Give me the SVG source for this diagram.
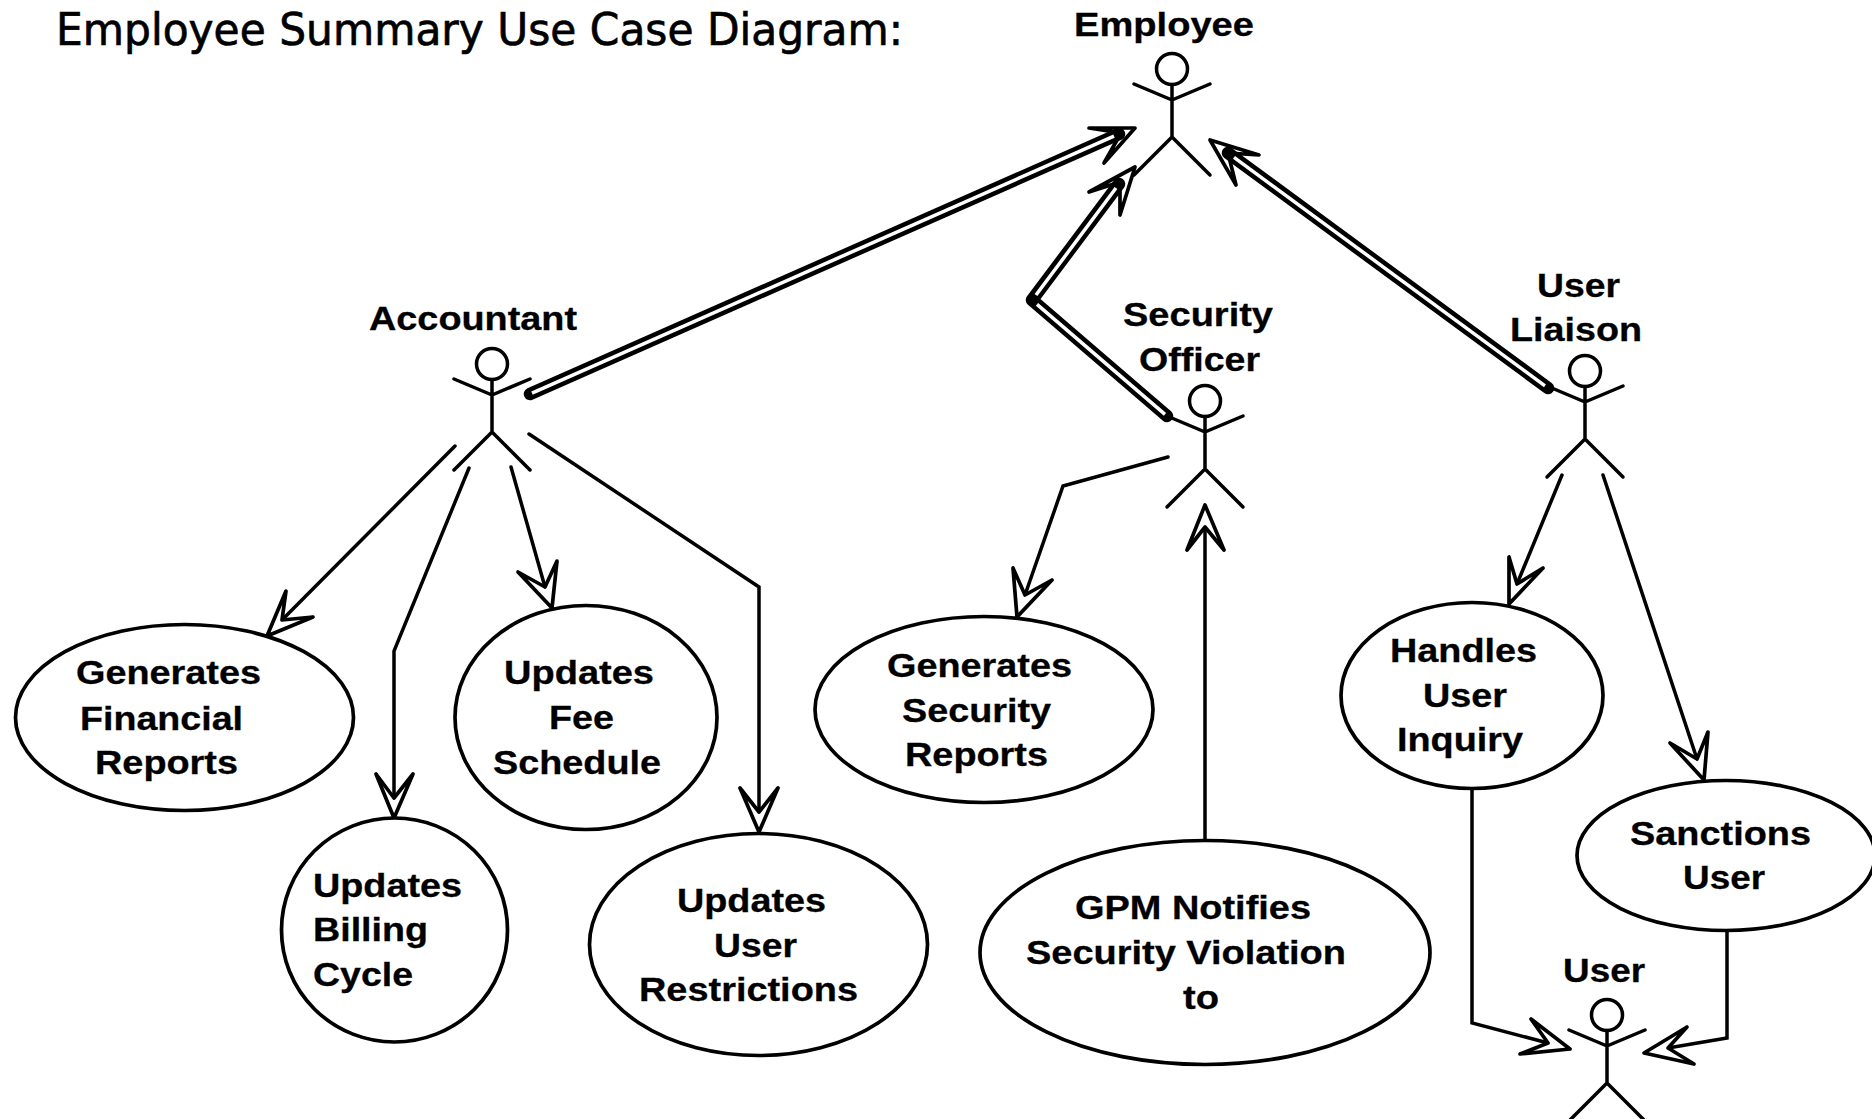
<svg xmlns="http://www.w3.org/2000/svg" xmlns:xlink="http://www.w3.org/1999/xlink" width="1872" height="1119" viewBox="0 0 1872 1119">
<style>
text{font-family:"Liberation Sans",Arial,sans-serif;font-weight:700;font-size:33px;fill:#000;stroke:#000;stroke-width:.3}
.title{font-family:"DejaVu Sans",sans-serif;font-weight:400;font-size:44px;stroke-width:.7}
.uc{fill:#fff;stroke:#000;stroke-width:3.7}
.fig{fill:none;stroke:#000;stroke-width:3.5;stroke-linecap:round;stroke-linejoin:round}
.ln{fill:none;stroke:#000;stroke-width:3.5;stroke-linecap:round;stroke-linejoin:miter}
.dart{fill:#fff;stroke:#000;stroke-width:3.7;stroke-linejoin:round}
.outer{fill:none;stroke:#000;stroke-width:12.500;stroke-linecap:round;stroke-linejoin:round}
.inner{fill:none;stroke:#fff;stroke-width:3.500;stroke-linecap:butt;stroke-linejoin:round}
</style>
<defs>
<g id="actor" class="fig">
<ellipse cx="0" cy="0" rx="15.500" ry="15.500"/>
<path d="M0 15.500V68M-38 15L0 31L38 15M-38 106L0 68L38 106"/>
</g>
</defs>
<rect width="1872" height="1119" fill="#fff"/>
<text class="title" x="56" y="45" textLength="847" lengthAdjust="spacingAndGlyphs">Employee Summary Use Case Diagram:</text>
<g id="connectors">
<path class="dart" d="M1089 128L1135 128L1104 163L1121 133Z"/>
<path class="dart" d="M1089 192L1135 167L1120 215L1120 182Z"/>
<path class="dart" d="M1259 155L1210 140L1236 185L1228 153Z"/>
<path class="outer" d="M530 394L1119 134"/>
<path class="inner" d="M532 393.100L1114 136.200"/>
<path class="outer" d="M1167 416L1032 300L1119 184"/>
<path class="inner" d="M1165 414.300L1037 304.300M1036 295L1116 188"/>
<path class="outer" d="M1548 388L1228 153"/>
<path class="inner" d="M1545 385.800L1234 157.400"/>
<path class="ln" d="M455 446L282 620"/>
<path class="dart" d="M286 591L267 636L313 617L282 620Z"/>
<path class="ln" d="M469 468L394 651V798"/>
<path class="dart" d="M376 774L394 818L413 774L394 798Z"/>
<path class="ln" d="M511 467L545 587"/>
<path class="dart" d="M518 572L552 608L557 561L545 587Z"/>
<path class="ln" d="M529 434L759 587V812"/>
<path class="dart" d="M740 788L759 832L778 788L759 812Z"/>
<path class="ln" d="M1168 457L1063 486L1025 595"/>
<path class="dart" d="M1013 568L1017 617L1052 580L1025 595Z"/>
<path class="ln" d="M1205 842V527"/>
<path class="dart" d="M1187 550L1205 505L1224 550L1205 527Z"/>
<path class="ln" d="M1562 475L1517 584"/>
<path class="dart" d="M1509 557L1509 604L1543 568L1517 584Z"/>
<path class="ln" d="M1603 475L1697 759"/>
<path class="dart" d="M1670 743L1704 780L1708 732L1697 759Z"/>
<path class="ln" d="M1472 788V1023L1548 1043"/>
<path class="dart" d="M1531 1019L1570 1049L1520 1054L1548 1043Z"/>
<path class="ln" d="M1727 930V1038L1668 1048"/>
<path class="dart" d="M1687 1027L1644 1053L1694 1064L1668 1048Z"/>
</g>
<g id="actor-employee"><use href="#actor" x="1172" y="69"/><text x="1074" y="36" textLength="180" lengthAdjust="spacingAndGlyphs">Employee</text></g>
<g id="actor-accountant"><use href="#actor" x="492" y="364"/><text x="369" y="330" textLength="208" lengthAdjust="spacingAndGlyphs">Accountant</text></g>
<g id="actor-security-officer"><use href="#actor" x="1205" y="401"/><text x="1123" y="326" textLength="150" lengthAdjust="spacingAndGlyphs">Security</text><text x="1139" y="371" textLength="121" lengthAdjust="spacingAndGlyphs">Officer</text></g>
<g id="actor-user-liaison"><use href="#actor" x="1585" y="371"/><text x="1537" y="297" textLength="83" lengthAdjust="spacingAndGlyphs">User</text><text x="1510" y="341" textLength="132" lengthAdjust="spacingAndGlyphs">Liaison</text></g>
<g id="actor-user"><use href="#actor" x="1607" y="1015"/><text x="1563" y="982" textLength="82" lengthAdjust="spacingAndGlyphs">User</text></g>
<g id="uc-financial"><ellipse class="uc" cx="184.500" cy="717.500" rx="169" ry="93"/><text x="76" y="684" textLength="185" lengthAdjust="spacingAndGlyphs">Generates</text><text x="80" y="730" textLength="163" lengthAdjust="spacingAndGlyphs">Financial</text><text x="95" y="774" textLength="143" lengthAdjust="spacingAndGlyphs">Reports</text></g>
<g id="uc-billing"><ellipse class="uc" cx="394.500" cy="930" rx="113" ry="112"/><text x="313" y="897" textLength="149" lengthAdjust="spacingAndGlyphs">Updates</text><text x="313" y="941" textLength="115" lengthAdjust="spacingAndGlyphs">Billing</text><text x="313" y="986" textLength="100" lengthAdjust="spacingAndGlyphs">Cycle</text></g>
<g id="uc-fee"><ellipse class="uc" cx="586" cy="717.500" rx="131" ry="112"/><text x="504" y="684" textLength="150" lengthAdjust="spacingAndGlyphs">Updates</text><text x="549" y="729" textLength="65" lengthAdjust="spacingAndGlyphs">Fee</text><text x="493" y="774" textLength="168" lengthAdjust="spacingAndGlyphs">Schedule</text></g>
<g id="uc-restrictions"><ellipse class="uc" cx="758.500" cy="944.500" rx="169" ry="111"/><text x="677" y="912" textLength="149" lengthAdjust="spacingAndGlyphs">Updates</text><text x="714" y="957" textLength="83" lengthAdjust="spacingAndGlyphs">User</text><text x="639" y="1001" textLength="219" lengthAdjust="spacingAndGlyphs">Restrictions</text></g>
<g id="uc-security-reports"><ellipse class="uc" cx="984" cy="709.500" rx="169" ry="93"/><text x="887" y="677" textLength="185" lengthAdjust="spacingAndGlyphs">Generates</text><text x="902" y="722" textLength="149" lengthAdjust="spacingAndGlyphs">Security</text><text x="905" y="766" textLength="143" lengthAdjust="spacingAndGlyphs">Reports</text></g>
<g id="uc-gpm"><ellipse class="uc" cx="1205" cy="952.500" rx="225" ry="112"/><text x="1075" y="919" textLength="236" lengthAdjust="spacingAndGlyphs">GPM Notifies</text><text x="1026" y="964" textLength="320" lengthAdjust="spacingAndGlyphs">Security Violation</text><text x="1183" y="1009" textLength="36" lengthAdjust="spacingAndGlyphs">to</text></g>
<g id="uc-inquiry"><ellipse class="uc" cx="1472" cy="695.500" rx="131" ry="93"/><text x="1390" y="662" textLength="147" lengthAdjust="spacingAndGlyphs">Handles</text><text x="1423" y="707" textLength="84" lengthAdjust="spacingAndGlyphs">User</text><text x="1397" y="751" textLength="126" lengthAdjust="spacingAndGlyphs">Inquiry</text></g>
<g id="uc-sanctions"><ellipse class="uc" cx="1726" cy="855.500" rx="149" ry="75"/><text x="1630" y="845" textLength="181" lengthAdjust="spacingAndGlyphs">Sanctions</text><text x="1683" y="889" textLength="82" lengthAdjust="spacingAndGlyphs">User</text></g>
</svg>
